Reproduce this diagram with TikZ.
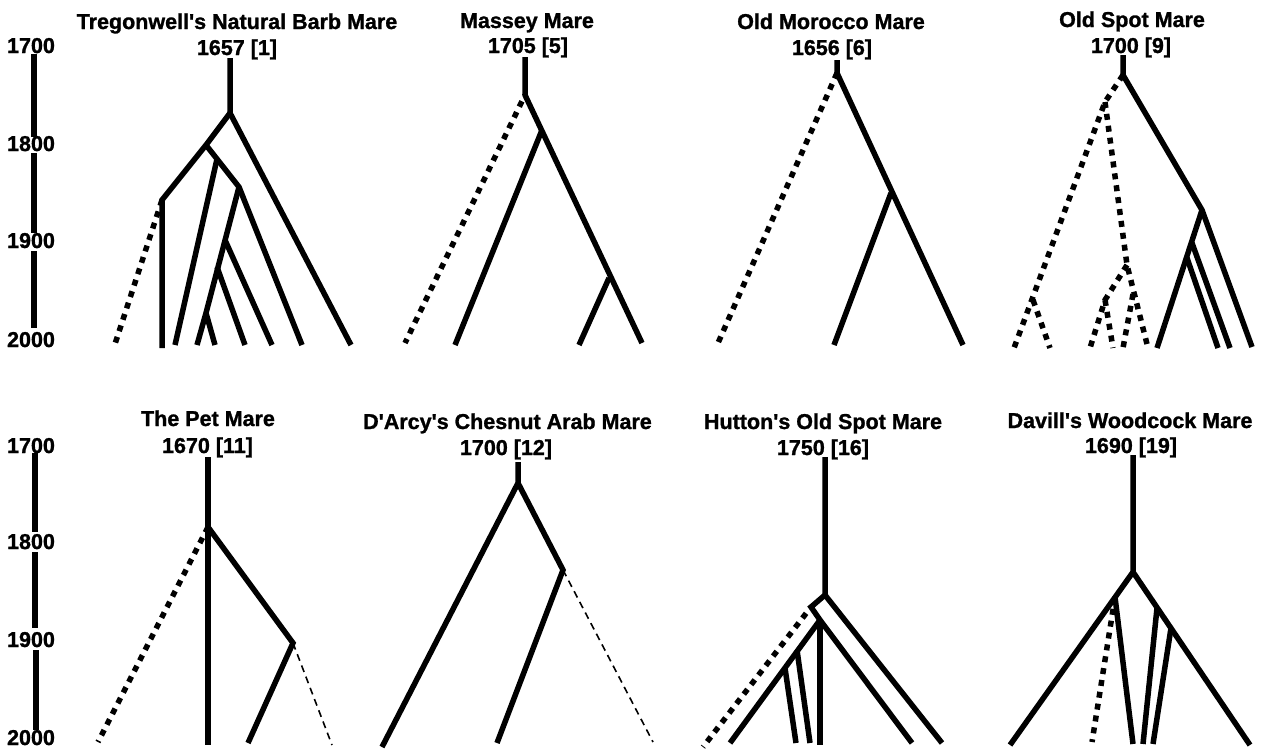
\documentclass[tikz,border=0pt]{standalone}
\usepackage{fontspec}
\setmainfont{Liberation Sans}
\newfontfamily\lblfont[FakeBold=1.2]{Liberation Sans Bold}
\begin{document}
\begin{tikzpicture}[x=1pt,y=-1pt,
  br/.style={line width=5.5pt, line cap=butt, line join=miter},
  dotb/.style={line width=5.5pt, line cap=butt, dash pattern=on 6pt off 6pt},
  thind/.style={line width=1.6pt, dash pattern=on 7pt off 5pt},
  lbl/.style={font=\fontsize{21.5}{26}\lblfont, inner sep=0pt, anchor=base}]
\useasboundingbox (0,0) rectangle (1263,750);

% ---------- year axes ----------
\foreach \yr/\b in {1700/53,1800/151,1900/248,2000/347}{\node[lbl] (ta\yr) at (31,\b) {\yr};}
\foreach \yr/\b in {1700/453,1800/549,1900/647,2000/745}{\node[lbl] (ba\yr) at (31,\b) {\yr};}
\coordinate (a1) at (34,54);  \coordinate (a2) at (34,137);
\coordinate (a3) at (34,153); \coordinate (a4) at (34,233);
\coordinate (a5) at (34,251); \coordinate (a6) at (34,328);
\draw[br] (a1) -- (a2); \draw[br] (a3) -- (a4); \draw[br] (a5) -- (a6);
\coordinate (b1) at (35,453); \coordinate (b2) at (35,532);
\coordinate (b3) at (35,552); \coordinate (b4) at (35,628);
\coordinate (b5) at (36,650); \coordinate (b6) at (36,730);
\draw[br] (b1) -- (b2); \draw[br] (b3) -- (b4); \draw[br] (b5) -- (b6);

% ---------- titles ----------
\node[lbl] (n1) at (237,29) {Tregonwell\textquotesingle s Natural Barb Mare};
\node[lbl] (d1) at (237,55) {1657 [1]};
\node[lbl] (n2) at (527,28) {Massey Mare};
\node[lbl] (d2) at (528,53) {1705 [5]};
\node[lbl] (n3) at (831,29) {Old Morocco Mare};
\node[lbl] (d3) at (832,55) {1656 [6]};
\node[lbl] (n4) at (1132,27) {Old Spot Mare};
\node[lbl] (d4) at (1131,53) {1700 [9]};
\node[lbl] (n5) at (208,426) {The Pet Mare};
\node[lbl] (d5) at (207.5,453) {1670 [11]};
\node[lbl] (n6) at (507.5,429) {D\textquotesingle Arcy\textquotesingle s Chesnut Arab Mare};
\node[lbl] (d6) at (506,455) {1700 [12]};
\node[lbl] (n7) at (823,429) {Hutton\textquotesingle s Old Spot Mare};
\node[lbl] (d7) at (823,455) {1750 [16]};
\node[lbl] (n8) at (1130,428) {Davill\textquotesingle s Woodcock Mare};
\node[lbl] (d8) at (1131,453) {1690 [19]};

% ---------- panel 1 ----------
\coordinate (p1t) at (230,58);
\coordinate (p1R) at (230,113);
\coordinate (p1A) at (206,145);
\coordinate (p1B) at (162,200);
\coordinate (p1D) at (217,159);
\coordinate (p1E) at (239,187);
\coordinate (p1F) at (225,240);
\coordinate (p1G) at (217,267);
\coordinate (p1H) at (206,313);
\coordinate (p1e1) at (351,345);
\coordinate (p1e2) at (162,348);
\coordinate (p1e3) at (114,347);
\coordinate (p1e4) at (175,345);
\coordinate (p1e5) at (302,345);
\coordinate (p1e6) at (197,345);
\coordinate (p1e7) at (272,345);
\coordinate (p1e8) at (245,345);
\coordinate (p1e9) at (215,345);
\draw[br] (p1t) -- (p1R) -- (p1e1);
\draw[br] (p1R) -- (p1A) -- (p1B) -- (p1e2);
\draw[br] (p1A) -- (p1E) -- (p1e5);
\draw[br] (p1D) -- (p1e4);
\draw[br] (p1E) -- (p1H) -- (p1e6);
\draw[br] (p1F) -- (p1e7);
\draw[br] (p1G) -- (p1e8);
\draw[br] (p1H) -- (p1e9);
\draw[dotb] (p1B) -- (p1e3);

% ---------- panel 2 ----------
\coordinate (p2t) at (525,57);
\coordinate (p2R) at (525,95);
\coordinate (p2a) at (542,130);
\coordinate (p2b) at (609,278);
\coordinate (p2e1) at (642,343);
\coordinate (p2e2) at (405,343);
\coordinate (p2e3) at (455,345);
\coordinate (p2e4) at (579,345);
\draw[br] (p2t) -- (p2R) -- (p2e1);
\draw[dotb, dash phase=5pt] (p2R) -- (p2e2);
\draw[br] (p2a) -- (p2e3);
\draw[br] (p2b) -- (p2e4);

% ---------- panel 3 ----------
\coordinate (p3t) at (837,60);
\coordinate (p3R) at (837,73);
\coordinate (p3a) at (891,193);
\coordinate (p3e1) at (963,345);
\coordinate (p3e2) at (718,343);
\coordinate (p3e3) at (834,345);
\draw[br] (p3t) -- (p3R) -- (p3e1);
\draw[dotb] (p3R) -- (p3e2);
\draw[br] (p3a) -- (p3e3);

% ---------- panel 4 ----------
\coordinate (p4t) at (1123,55);
\coordinate (p4R) at (1123,75);
\coordinate (p4S) at (1202,210);
\coordinate (p4a) at (1192,243);
\coordinate (p4b) at (1187,258);
\coordinate (p4e1) at (1252,347);
\coordinate (p4e2) at (1157,348);
\coordinate (p4e3) at (1230,348);
\coordinate (p4e4) at (1218,348);
\draw[br] (p4t) -- (p4R) -- (p4S) -- (p4e1);
\draw[br] (p4S) -- (p4e2);
\draw[br] (p4a) -- (p4e3);
\draw[br] (p4b) -- (p4e4);
\coordinate (p4T) at (1105,102);
\coordinate (p4L) at (1033,300);
\coordinate (p4S2) at (1127,265);
\coordinate (p4M) at (1133,294);
\coordinate (p4K) at (1105,300);
\coordinate (p4f1) at (1014,348);
\coordinate (p4f2) at (1050,348);
\coordinate (p4f3) at (1148,348);
\coordinate (p4f4) at (1123,348);
\coordinate (p4f5) at (1090,348);
\coordinate (p4f6) at (1113,348);
\draw[dotb] (p4R) -- (p4T) -- (p4f1);
\draw[dotb] (p4L) -- (p4f2);
\draw[dotb] (p4T) -- (p4S2) -- (p4f3);
\draw[dotb] (p4M) -- (p4f4);
\draw[dotb] (p4S2) -- (p4K) -- (p4f5);
\draw[dotb] (p4K) -- (p4f6);

% ---------- panel 5 ----------
\coordinate (p5t) at (208,457);
\coordinate (p5R) at (208,527);
\coordinate (p5U) at (293,643);
\coordinate (p5e1) at (208,745);
\coordinate (p5e2) at (248,743);
\coordinate (p5e3) at (98,742);
\coordinate (p5e4) at (332,745);
\draw[br] (p5t) -- (p5R) -- (p5e1);
\draw[br] (p5R) -- (p5U) -- (p5e2);
\draw[dotb] (p5R) -- (p5e3);
\draw[thind] (p5U) -- (p5e4);

% ---------- panel 6 ----------
\coordinate (p6t) at (518,462);
\coordinate (p6R) at (518,483);
\coordinate (p6V) at (563,570);
\coordinate (p6e1) at (382,747);
\coordinate (p6e2) at (497,743);
\coordinate (p6e3) at (653,742);
\draw[br] (p6t) -- (p6R) -- (p6e1);
\draw[br] (p6R) -- (p6V) -- (p6e2);
\draw[thind] (p6V) -- (p6e3);

% ---------- panel 7 ----------
\coordinate (p7t) at (825,457);
\coordinate (p7R) at (825,595);
\coordinate (p7P) at (811,607);
\coordinate (p7Q) at (820,620);
\coordinate (p7a) at (797,650);
\coordinate (p7b) at (785,668);
\coordinate (p7e1) at (942,743);
\coordinate (p7e2) at (912,743);
\coordinate (p7e3) at (820,745);
\coordinate (p7e4) at (730,743);
\coordinate (p7e5) at (810,743);
\coordinate (p7e6) at (796,743);
\coordinate (p7e7) at (703,747);
\draw[br] (p7t) -- (p7R) -- (p7e1);
\draw[br] (p7R) -- (p7P) -- (p7Q) -- (p7e2);
\draw[br] (p7Q) -- (p7e3);
\draw[br] (p7Q) -- (p7e4);
\draw[br] (p7a) -- (p7e5);
\draw[br] (p7b) -- (p7e6);
\draw[dotb, dash phase=4pt] (p7P) -- (p7e7);

% ---------- panel 8 ----------
\coordinate (p8t) at (1133,455);
\coordinate (p8R) at (1133,572);
\coordinate (p8W1) at (1115,597);
\coordinate (p8W2) at (1157,608);
\coordinate (p8W3) at (1171,628);
\coordinate (p8e1) at (1010,745);
\coordinate (p8e2) at (1250,745);
\coordinate (p8e3) at (1133,744);
\coordinate (p8e4) at (1092,742);
\coordinate (p8e5) at (1143,744);
\coordinate (p8e6) at (1153,744);
\draw[br] (p8t) -- (p8R) -- (p8e1);
\draw[br] (p8R) -- (p8e2);
\draw[br] (p8W1) -- (p8e3);
\draw[dotb] (p8W1) -- (p8e4);
\draw[br] (p8W2) -- (p8e5);
\draw[br] (p8W3) -- (p8e6);
\end{tikzpicture}
\end{document}
